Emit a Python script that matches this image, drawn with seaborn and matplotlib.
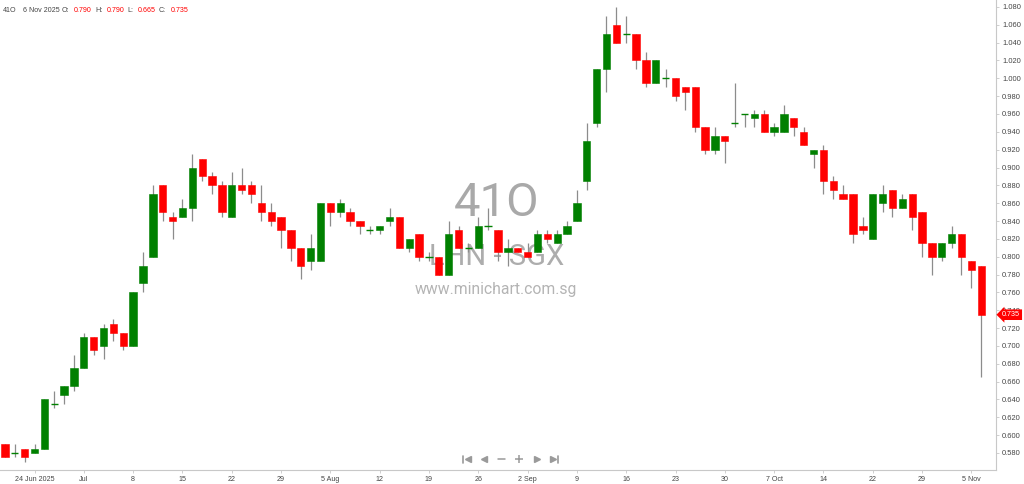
import numpy as np
import pandas as pd
import matplotlib
matplotlib.use("Agg")
import matplotlib.pyplot as plt
import matplotlib.transforms as mtransforms
from matplotlib.ticker import MultipleLocator, FormatStrFormatter, FixedLocator
import seaborn as sns

# =====================================
# Data (41O  LHN - SGX, daily candles)
# =====================================
opens = [
    0.590, 0.580, 0.585, 0.580, 0.585, 0.635, 0.645, 0.655, 0.675, 0.710,
    0.700, 0.725, 0.715, 0.700, 0.770, 0.800, 0.880, 0.845, 0.845, 0.855,
    0.910, 0.890, 0.880, 0.845, 0.880, 0.880, 0.860, 0.850, 0.845, 0.830,
    0.810, 0.795, 0.795, 0.860, 0.850, 0.850, 0.840, 0.830, 0.830, 0.840,
    0.845, 0.810, 0.825, 0.800, 0.800, 0.780, 0.830, 0.810, 0.810, 0.835,
    0.830, 0.805, 0.810, 0.805, 0.805, 0.825, 0.815, 0.825, 0.840, 0.885,
    0.950, 1.010, 1.060, 1.050, 1.050, 1.020, 0.995, 1.000, 1.000, 0.990,
    0.990, 0.945, 0.920, 0.935, 0.950, 0.960, 0.955, 0.960, 0.940, 0.940,
    0.955, 0.940, 0.915, 0.920, 0.885, 0.870, 0.870, 0.835, 0.820, 0.860,
    0.875, 0.855, 0.870, 0.850, 0.815, 0.800, 0.815, 0.825, 0.795, 0.790,
]
highs = [
    0.590, 0.590, 0.585, 0.590, 0.640, 0.650, 0.655, 0.690, 0.715, 0.710,
    0.725, 0.730, 0.715, 0.760, 0.805, 0.880, 0.880, 0.850, 0.865, 0.915,
    0.910, 0.895, 0.885, 0.895, 0.900, 0.885, 0.880, 0.860, 0.845, 0.830,
    0.810, 0.825, 0.860, 0.860, 0.865, 0.855, 0.840, 0.835, 0.835, 0.855,
    0.845, 0.820, 0.825, 0.805, 0.800, 0.840, 0.835, 0.815, 0.845, 0.855,
    0.830, 0.820, 0.810, 0.815, 0.830, 0.830, 0.830, 0.840, 0.875, 0.950,
    1.010, 1.070, 1.080, 1.070, 1.050, 1.030, 1.020, 1.010, 1.000, 0.990,
    0.990, 0.945, 0.945, 0.935, 0.995, 0.960, 0.965, 0.965, 0.950, 0.970,
    0.955, 0.945, 0.920, 0.925, 0.890, 0.880, 0.870, 0.845, 0.870, 0.880,
    0.875, 0.870, 0.870, 0.850, 0.815, 0.815, 0.835, 0.825, 0.795, 0.790,
]
lows = [
    0.575, 0.575, 0.570, 0.580, 0.585, 0.630, 0.635, 0.650, 0.675, 0.690,
    0.685, 0.705, 0.695, 0.700, 0.760, 0.800, 0.840, 0.820, 0.845, 0.840,
    0.885, 0.870, 0.845, 0.845, 0.870, 0.860, 0.840, 0.835, 0.810, 0.795,
    0.775, 0.785, 0.795, 0.835, 0.845, 0.835, 0.825, 0.825, 0.825, 0.835,
    0.810, 0.805, 0.795, 0.795, 0.780, 0.780, 0.810, 0.805, 0.810, 0.830,
    0.795, 0.790, 0.805, 0.800, 0.805, 0.815, 0.815, 0.825, 0.840, 0.875,
    0.945, 0.985, 1.040, 1.040, 1.010, 0.990, 0.995, 0.990, 0.975, 0.965,
    0.940, 0.915, 0.915, 0.905, 0.945, 0.945, 0.945, 0.940, 0.935, 0.940,
    0.935, 0.925, 0.900, 0.870, 0.865, 0.865, 0.815, 0.825, 0.820, 0.850,
    0.845, 0.855, 0.830, 0.800, 0.780, 0.795, 0.810, 0.780, 0.765, 0.665,
]
closes = [
    0.575, 0.580, 0.575, 0.585, 0.640, 0.635, 0.655, 0.675, 0.710, 0.695,
    0.720, 0.715, 0.700, 0.760, 0.790, 0.870, 0.850, 0.840, 0.855, 0.900,
    0.890, 0.880, 0.850, 0.880, 0.875, 0.870, 0.850, 0.840, 0.830, 0.810,
    0.790, 0.810, 0.860, 0.850, 0.860, 0.840, 0.835, 0.830, 0.835, 0.845,
    0.810, 0.820, 0.800, 0.800, 0.780, 0.825, 0.810, 0.810, 0.835, 0.835,
    0.805, 0.810, 0.805, 0.800, 0.825, 0.820, 0.825, 0.835, 0.860, 0.930,
    1.010, 1.050, 1.040, 1.050, 1.020, 0.995, 1.020, 1.000, 0.980, 0.985,
    0.945, 0.920, 0.935, 0.930, 0.950, 0.960, 0.960, 0.940, 0.945, 0.960,
    0.945, 0.925, 0.920, 0.885, 0.875, 0.865, 0.825, 0.830, 0.870, 0.870,
    0.855, 0.865, 0.845, 0.815, 0.800, 0.815, 0.825, 0.800, 0.785, 0.735,
]

# candle index where each date label sits
tick_index = [3, 8, 13, 18, 23, 28, 33, 38, 43, 48,
              53, 58, 63, 68, 73, 78, 83, 88, 93, 98]
tick_labels = ["24 Jun 2025", "Jul", "8", "15", "22", "29", "5 Aug", "12", "19", "26",
               "2 Sep", "9", "16", "23", "30", "7 Oct", "14", "22", "29", "5 Nov"]

symbol = "41O"
name_line = "LHN - SGX"
site = "www.minichart.com.sg"
last_date = "6 Nov 2025"

# =====================================
# Style
# =====================================
UP = "#008000"
DOWN = "#ff0000"
WICK = "#8c8c8c"
AXIS = "#c8c8c8"
TXT = "#444444"

sns.set_style("white")
plt.rcParams["font.family"] = ["Liberation Sans", "DejaVu Sans"]

W, H = 1024, 484


def fpos(x, y):
    return x / W, 1 - y / H


df = pd.DataFrame({"open": opens, "high": highs, "low": lows, "close": closes})
df["x"] = np.arange(len(df))
df["up"] = df["close"] >= df["open"]
df["doji"] = df["close"] == df["open"]

fig = plt.figure(figsize=(W / 100, H / 100), dpi=100)
ax = fig.add_axes([0, 14 / H, 996 / W, 470 / H])

# watermark behind the candles
wm_font = ["Roboto", "DejaVu Sans"]
ax.text(0.499, 0.568, symbol, transform=ax.transAxes, ha="center", va="center",
        fontsize=34, color="#a9a9a9", family=wm_font, zorder=0)
ax.text(0.499, 0.453, name_line, transform=ax.transAxes, ha="center", va="center",
        fontsize=21, color="#adadad", family=wm_font, zorder=0)
ax.text(0.498, 0.385, site, transform=ax.transAxes, ha="center", va="center",
        fontsize=11.3, color="#b4b4b4", family=wm_font, zorder=0)

# wicks
ax.vlines(df["x"], df["low"], df["high"], color=WICK, lw=0.9, zorder=2)

# bodies
body = df[~df["doji"]]
colors = np.where(body["up"], UP, DOWN)
ax.bar(body["x"], (body["close"] - body["open"]).abs(),
       bottom=body[["open", "close"]].min(axis=1), width=0.74,
       color=colors, linewidth=0.4, edgecolor=colors, zorder=3)

# doji crosses
dj = df[df["doji"]]
ax.hlines(dj["close"], dj["x"] - 0.37, dj["x"] + 0.37, color=UP, lw=1.0, zorder=3)

# axes
ax.set_xlim(-0.5, 100.5)
ax.set_ylim(0.5609, 1.0878)
for s in ["left", "top"]:
    ax.spines[s].set_visible(False)
for s in ["right", "bottom"]:
    ax.spines[s].set_color(AXIS)
    ax.spines[s].set_linewidth(0.8)
ax.yaxis.tick_right()
ax.yaxis.set_major_locator(MultipleLocator(0.02))
ax.yaxis.set_major_formatter(FormatStrFormatter("%.3f"))
ax.xaxis.set_major_locator(FixedLocator(tick_index))
ax.set_xticklabels(tick_labels)
ax.tick_params(axis="y", which="major", right=True, length=2.5, width=0.6,
               color=AXIS, labelsize=5.4, labelcolor=TXT, pad=2)
ax.tick_params(axis="x", which="major", bottom=True, length=2.5, width=0.6,
               color=AXIS, labelsize=5.1, labelcolor=TXT, pad=2)
ax.grid(False)

# last price tag (sits over the 0.740 label, as in the source chart)
last = df["close"].iloc[-1]
trans = mtransforms.blended_transform_factory(ax.transAxes, ax.transData)
ax.annotate(f"{last:.3f}", xy=(1, last), xycoords=trans, xytext=(4.5, 0),
            textcoords="offset points", ha="left", va="center", color="white",
            fontsize=5.2, annotation_clip=False, zorder=6,
            bbox=dict(boxstyle="larrow,pad=0.25", fc=DOWN, ec="none"))

# header line
row = df.iloc[-1]
header = [
    (3, symbol, TXT), (23, last_date, TXT),
    (62, "O:", TXT), (74, f"{row['open']:.3f}", DOWN),
    (95, "H:", TXT), (107, f"{row['high']:.3f}", DOWN),
    (127, "L:", TXT), (138, f"{row['low']:.3f}", DOWN),
    (159, "C:", TXT), (171, f"{row['close']:.3f}", DOWN),
]
for hx, txt, col in header:
    fig.text(*fpos(hx, 10.5), txt, ha="left", va="center", fontsize=5.1, color=col)

# navigation buttons
nav = fig.add_axes([0, 0, 1, 1], zorder=5)
nav.set_xlim(0, W)
nav.set_ylim(H, 0)
nav.axis("off")
nav.patch.set_alpha(0)
NAV = "#9a9a9a"
nav.plot([462.5, 462.5], [455.5, 462.5], color=NAV, lw=1.2)
nav.plot([467.5], [459], marker="<", ms=4.5, color=NAV, mec=NAV)
nav.plot([484], [459], marker="<", ms=4.5, color=NAV, mec=NAV)
nav.plot([497.5, 505], [459, 459], color=NAV, lw=1.1)
nav.plot([519], [459], marker="+", ms=6, mew=1.1, color=NAV)
nav.plot([537], [459], marker=">", ms=4.5, color=NAV, mec=NAV)
nav.plot([552.5], [459], marker=">", ms=4.5, color=NAV, mec=NAV)
nav.plot([557.5, 557.5], [455.5, 462.5], color=NAV, lw=1.2)

fig.savefig("out.png", dpi=100)
plt.close(fig)
